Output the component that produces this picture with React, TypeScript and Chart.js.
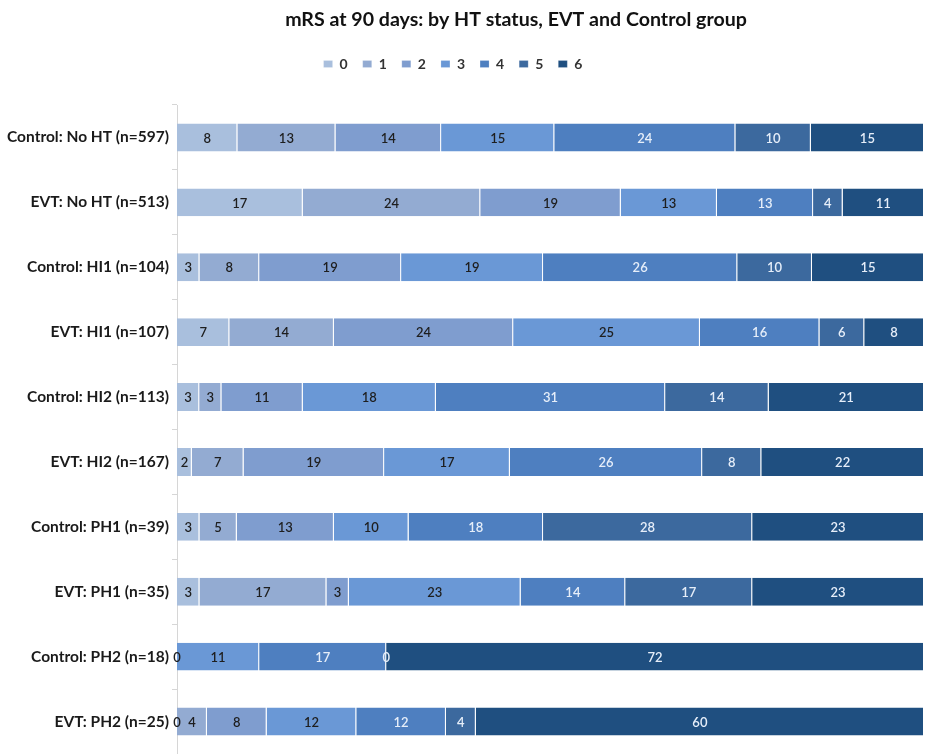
import React, { useEffect, useRef } from "react";
import { Chart, registerables } from "chart.js";

Chart.register(...registerables);

const TITLE = "mRS at 90 days: by HT status, EVT and Control group";
const categories = [
  "Control: No HT (n=597)",
  "EVT: No HT (n=513)",
  "Control: HI1 (n=104)",
  "EVT: HI1 (n=107)",
  "Control: HI2 (n=113)",
  "EVT: HI2 (n=167)",
  "Control: PH1 (n=39)",
  "EVT: PH1 (n=35)",
  "Control: PH2 (n=18)",
  "EVT: PH2 (n=25)",
];
const mrsLabels = ["0", "1", "2", "3", "4", "5", "6"];
// percentages per mRS score for each row (same order as categories)
const mrs0 = [8, 17, 3, 7, 3, 2, 3, 3, 0, 0];
const mrs1 = [13, 24, 8, 14, 3, 7, 5, 17, null, 4];
const mrs2 = [14, 19, 19, 24, 11, 19, 13, 3, null, 8];
const mrs3 = [15, 13, 19, 25, 18, 17, 10, 23, 11, 12];
const mrs4 = [24, 13, 26, 16, 31, 26, 18, 14, 17, 12];
const mrs5 = [10, 4, 10, 6, 14, 8, 28, 17, 0, 4];
const mrs6 = [15, 11, 15, 8, 21, 22, 23, 23, 72, 60];

const colors = ["#a9bfdd", "#93abd2", "#7f9dcf", "#6a98d6", "#4e7fc0", "#3c699e", "#1f4f80"];
const labelColors = ["#1e1e1e", "#1e1e1e", "#1e1e1e", "#1e1e1e", "#e6eef9", "#e6eef9", "#e6eef9"];

const FONT = "Lato, 'Open Sans', sans-serif";

export default function App() {
  const ref = useRef<HTMLCanvasElement | null>(null);
  useEffect(() => {
    const series = [mrs0, mrs1, mrs2, mrs3, mrs4, mrs5, mrs6];
    const sums = categories.map((_, i) =>
      series.reduce((s, arr) => s + (arr[i] ?? 0), 0)
    );
    const datasets = series.map((arr, k) => ({
      label: mrsLabels[k],
      data: arr.map((v, i) => (v === null ? null : (v / sums[i]) * 100)),
      raw: arr,
      backgroundColor: colors[k],
      borderColor: "rgba(255,255,255,0.75)",
      borderWidth: { top: 0, bottom: 0, left: 0, right: 1 },
      borderSkipped: false,
      categoryPercentage: 0.86,
      barPercentage: 0.5,
    }));

    const labelPlugin = {
      id: "segLabels",
      afterDatasetsDraw(chart: any) {
        const ctx = chart.ctx;
        ctx.save();
        ctx.font = `600 13px ${FONT}`;
        ctx.textAlign = "center";
        ctx.textBaseline = "middle";
        chart.data.datasets.forEach((ds: any, k: number) => {
          const meta = chart.getDatasetMeta(k);
          meta.data.forEach((el: any, i: number) => {
            const v = ds.raw[i];
            if (v === null || v === undefined) return;
            const p = el.getCenterPoint();
            ctx.fillStyle = labelColors[k];
            ctx.fillText(String(v), p.x, p.y + 1);
          });
        });
        ctx.restore();
      },
    };

    const titlePlugin = {
      id: "offsetTitle",
      afterDraw(chart: any) {
        const ctx = chart.ctx;
        ctx.save();
        ctx.font = `bold 19.6px ${FONT}`;
        ctx.fillStyle = "#111";
        ctx.textAlign = "center";
        ctx.textBaseline = "middle";
        ctx.fillText(TITLE, 516, 20);
        ctx.restore();
      },
    };

    const legendSpace = {
      id: "legendSpace",
      beforeInit(chart: any) {
        const lg = chart.legend;
        if (lg && !lg.__patched) {
          const orig = lg.fit;
          lg.fit = function () {
            orig.call(this);
            this.height += 24;
          };
          lg.__patched = true;
        }
      },
      afterLayout(chart: any) {
        const lg = chart.legend;
        if (lg) {
          lg.left -= 9;
          lg.right -= 9;
        }
      },
    };

    const chart = new Chart(ref.current as HTMLCanvasElement, {
      type: "bar",
      data: { labels: categories, datasets: datasets as any },
      options: {
        indexAxis: "y",
        animation: false,
        responsive: false,
        devicePixelRatio: 1,
        layout: { padding: { left: 0, right: 6, top: 0, bottom: 0 } },
        plugins: {
          title: {
            display: true,
            text: TITLE,
            color: "rgba(0,0,0,0)",
            font: { family: FONT, size: 20, weight: "bold" },
            padding: { top: 8, bottom: 10 },
          },
          legend: {
            display: true,
            position: "top",
            labels: {
              boxWidth: 9,
              boxHeight: 7,
              padding: 15,
              color: "#333",
              font: { family: FONT, size: 14, weight: "bold" },
            },
          },
          tooltip: { enabled: false },
        },
        scales: {
          x: {
            stacked: true,
            min: 0,
            max: 100,
            display: false,
          },
          y: {
            stacked: true,
            afterFit(scale: any) {
              scale.width = 177;
              scale.paddingTop = 0;
              scale.paddingBottom = 0;
            },
            border: { display: true, color: "#d6d6d6" },
            grid: {
              drawOnChartArea: false,
              drawTicks: true,
              tickLength: 5,
              color: "#d6d6d6",
              offset: true,
            },
            ticks: {
              color: "#1a1a1a",
              padding: 3,
              font: { family: FONT, size: 15.5, weight: "bold" },
            },
          },
        },
      },
      plugins: [legendSpace, labelPlugin, titlePlugin],
    });
    return () => chart.destroy();
  }, []);

  return (
    <div style={{ position: "absolute", left: 0, top: 0, width: 930, height: 754, background: "#fff" }}>
      <canvas ref={ref} width={930} height={754} />
    </div>
  );
}
